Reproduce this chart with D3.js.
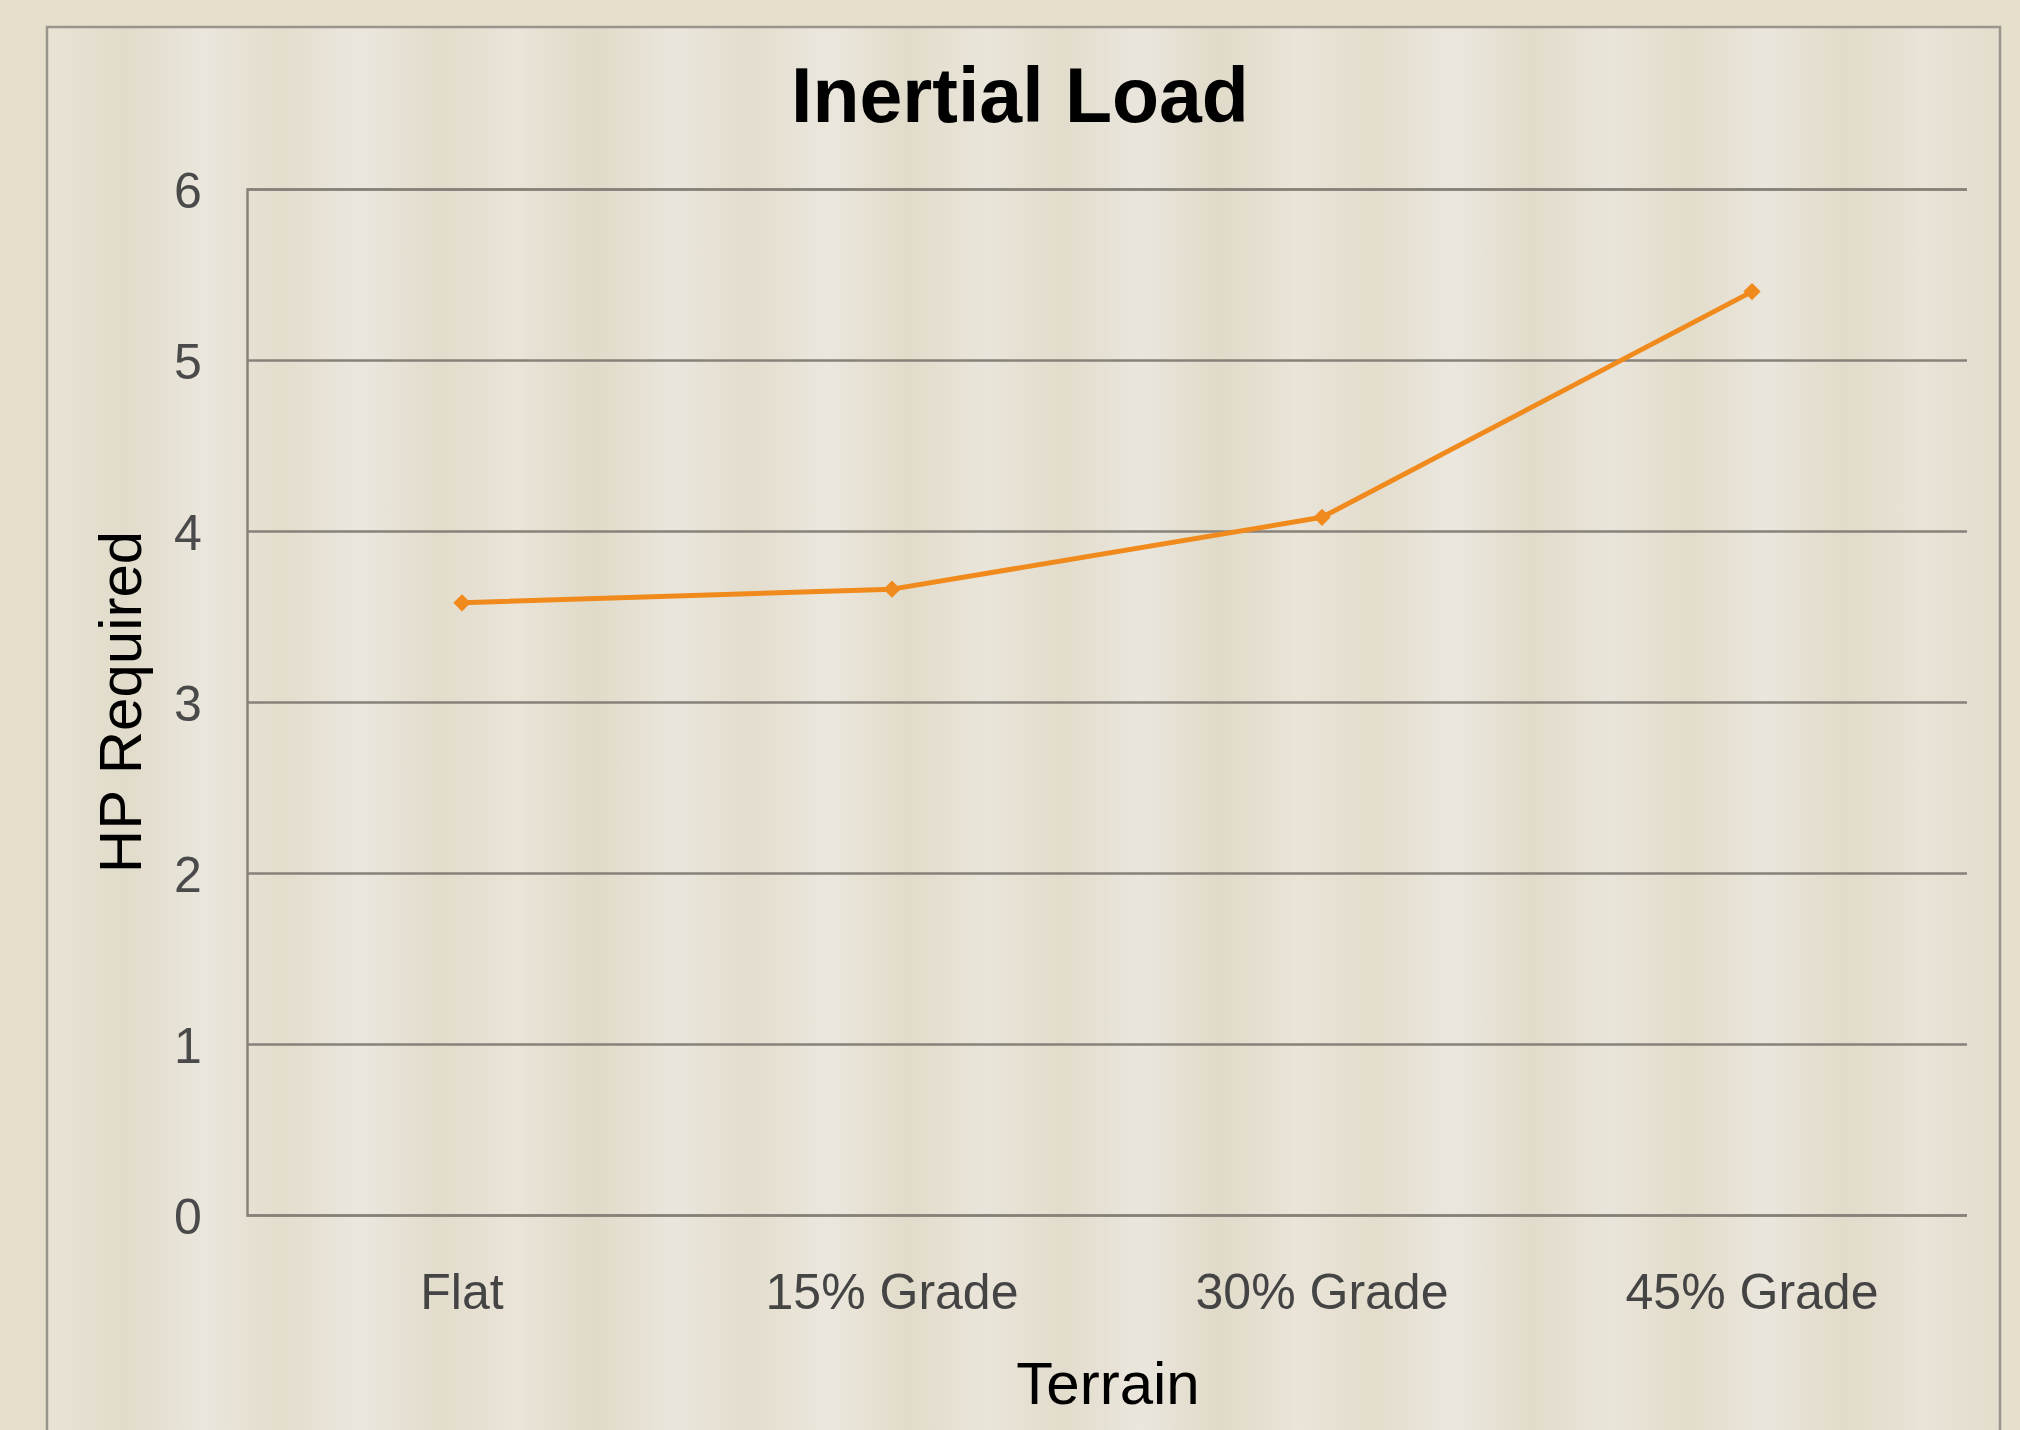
<!DOCTYPE html>
<html><head><meta charset="utf-8">
<script src="https://d3js.org/d3.v7.min.js"></script>
<style>html,body{margin:0;padding:0;background:#e7e1d2;overflow:hidden}</style>
</head><body>
<script>
const categories = ["Flat", "15% Grade", "30% Grade", "45% Grade"];
const hpRequired = [3.58, 3.66, 4.08, 5.40];
const yTicks = [0, 1, 2, 3, 4, 5, 6];
const chartTitle = "Inertial Load";
const xTitle = "Terrain";
const yTitle = "HP Required";

const W = 2020, H = 1430;
const svg = d3.select("body").append("svg").attr("width", W).attr("height", H);
const defs = svg.append("defs");

// striped beige background texture
const stripeStops = [
  [0,"#e9e3d6"],[0.04,"#e1dbcb"],[0.08,"#ebe6dc"],[0.12,"#e3ddcd"],[0.16,"#ece7de"],
  [0.2,"#e2dccc"],[0.24,"#eae4d9"],[0.28,"#e0dac9"],[0.32,"#ebe6dc"],[0.36,"#e3ddce"],
  [0.4,"#ece7dd"],[0.44,"#e1dbca"],[0.48,"#eae5da"],[0.52,"#e2dccc"],[0.56,"#ebe6dd"],
  [0.6,"#e0dac9"],[0.64,"#eae4d9"],[0.68,"#e3ddcd"],[0.72,"#ece7de"],[0.76,"#e1dbcb"],
  [0.8,"#eae5da"],[0.84,"#e2dccb"],[0.88,"#ebe6dc"],[0.92,"#e1dbca"],[0.96,"#e9e3d8"],[1,"#e3ddcd"]
];
const grad = defs.append("linearGradient").attr("id","stripes")
  .attr("x1","0").attr("x2","1").attr("y1","0").attr("y2","0");
stripeStops.forEach(s => grad.append("stop").attr("offset", s[0]).attr("stop-color", s[1]));

svg.append("rect").attr("width", W).attr("height", H).attr("fill", "#e5dfcb");
svg.append("rect").attr("x", 47).attr("y", 27).attr("width", 1953).attr("height", 1420)
  .attr("fill", "url(#stripes)").attr("stroke", "#9a958c").attr("stroke-width", 2.5);

const margin = {left: 247, right: 2020 - 1967, top: 189, bottom: 1430 - 1215};
const x = d3.scaleBand().domain(categories).range([margin.left, W - margin.right]);
const y = d3.scaleLinear().domain([0, 6]).range([H - margin.bottom, margin.top]);

// gridlines
const yAxis = d3.axisLeft(y).tickValues(yTicks).tickSize(-(W - margin.right - margin.left)).tickPadding(44).tickFormat(d3.format("d"));
const gy = svg.append("g").attr("transform", `translate(${margin.left},0)`).call(yAxis);
gy.select(".domain").attr("stroke", "#86827a").attr("stroke-width", 2.5);
gy.selectAll(".tick line").attr("stroke", "#86827a").attr("stroke-width", 2.5);
gy.selectAll(".tick text").attr("font-family", "Liberation Sans, Arial, sans-serif")
  .attr("font-size", 50).attr("fill", "#4a4a4a").attr("text-anchor", "middle")
  .attr("x", -59).attr("dy", "0.36em");

const xAxis = d3.axisBottom(x).tickSize(0).tickPadding(0);
const gx = svg.append("g").attr("transform", `translate(0,${H - margin.bottom})`).call(xAxis);
gx.select(".domain").remove();
gx.selectAll(".tick text").attr("font-family", "Liberation Sans, Arial, sans-serif")
  .attr("font-size", 50).attr("fill", "#444").attr("dy", null).attr("y", 94);

// line
const cx = d => x(d) + x.bandwidth() / 2;
const data = categories.map((c, i) => ({c, v: hpRequired[i]}));
svg.append("path").datum(data)
  .attr("fill", "none").attr("stroke", "#f08a1c").attr("stroke-width", 5)
  .attr("stroke-linejoin", "round")
  .attr("d", d3.line().x(d => cx(d.c)).y(d => y(d.v)));
svg.selectAll(".mk").data(data).enter().append("path")
  .attr("class", "mk")
  .attr("transform", d => `translate(${cx(d.c)},${y(d.v)}) rotate(45)`)
  .attr("d", d3.symbol().type(d3.symbolSquare).size(150))
  .attr("fill", "#f08a1c");

// titles
svg.append("text").attr("x", 1020).attr("y", 122).attr("text-anchor", "middle")
  .attr("font-family", "Liberation Sans, Arial, sans-serif").attr("font-weight", "bold")
  .attr("font-size", 77).attr("fill", "#000").text(chartTitle);
svg.append("text").attr("x", 1108).attr("y", 1404).attr("text-anchor", "middle")
  .attr("font-family", "Liberation Sans, Arial, sans-serif")
  .attr("font-size", 60).attr("fill", "#000").text(xTitle);
svg.append("text").attr("transform", "translate(141,702) rotate(-90)").attr("text-anchor", "middle")
  .attr("font-family", "Liberation Sans, Arial, sans-serif")
  .attr("font-size", 60).attr("fill", "#000").text(yTitle);
</script>
</body></html>
